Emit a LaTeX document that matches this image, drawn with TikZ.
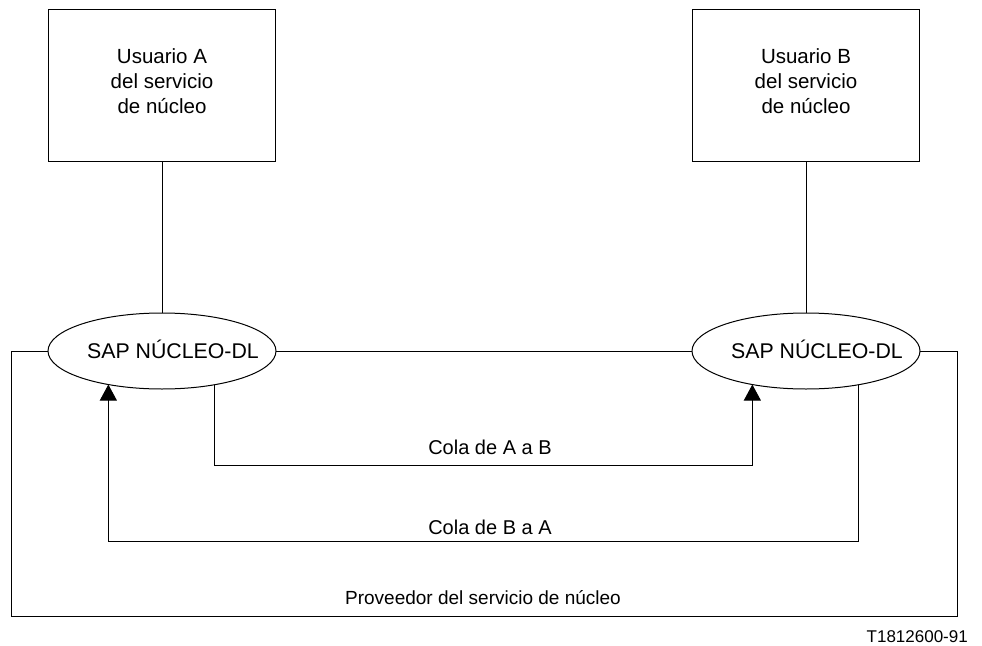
\documentclass[tikz,border=0pt]{standalone}
\usepackage{fontspec}
\setmainfont{Liberation Sans}
\usetikzlibrary{shapes.geometric,arrows.meta,calc}
\begin{document}
\begin{tikzpicture}[x=1pt,y=-1pt,
  every node/.style={font=\fontsize{20}{25}\selectfont},
  line/.style={draw=black,line width=1pt},
  userbox/.style={draw,line width=1pt,minimum width=227pt,minimum height=152pt,inner sep=0pt,outer sep=0pt,align=center,font=\fontsize{20.5}{25}\selectfont},
  sap/.style={draw,line width=1pt,ellipse,minimum width=228pt,minimum height=76pt,inner sep=0pt,outer sep=0pt,font=\fontsize{21.3}{25}\selectfont},
  arr/.style={line,-{Triangle[width=17pt,length=16pt]}},
  lbl/.style={inner sep=0pt}]
\useasboundingbox (0,0) rectangle (982,645);
\node[userbox] (UA) at (162,85) {Usuario A\\del servicio\\de núcleo\\[-17pt]};
\node[userbox] (UB) at (806,85) {Usuario B\\del servicio\\de núcleo\\[-17pt]};
\node[sap] (SAPA) at (162,351) {\makebox[0pt]{\hspace{22pt}\raisebox{4pt}{SAP NÚCLEO-DL}}};
\node[sap] (SAPB) at (806,351) {\makebox[0pt]{\hspace{22pt}\raisebox{4pt}{SAP NÚCLEO-DL}}};
\draw[line] (UA) -- (SAPA);
\draw[line] (UB) -- (SAPB);
\draw[line] (SAPA.east) -- (SAPB.west);
\coordinate (pl) at (11,616);
\coordinate (pr) at (957,616);
\draw[line] (SAPA.west) -| (pl) -- (pr) |- (SAPB.east);
\coordinate (ab) at (0,465);
\coordinate (ba) at (0,541);
\draw[arr] (SAPA.327.63) -- (SAPA.327.63 |- ab) -| (SAPB.212.37);
\draw[arr] (SAPB.327.63) -- (SAPB.327.63 |- ba) -| (SAPA.212.37);
\node[lbl] (lab) at (490,447) {Cola de A a B};
\node[lbl] (lba) at (490,527) {Cola de B a A};
\node[lbl,font=\fontsize{19}{23}\selectfont] (lprov) at (483,598) {Proveedor del servicio de núcleo};
\node[lbl,anchor=east,font=\fontsize{17}{20}\selectfont] (code) at (968,637) {T1812600-91};
\end{tikzpicture}
\end{document}
